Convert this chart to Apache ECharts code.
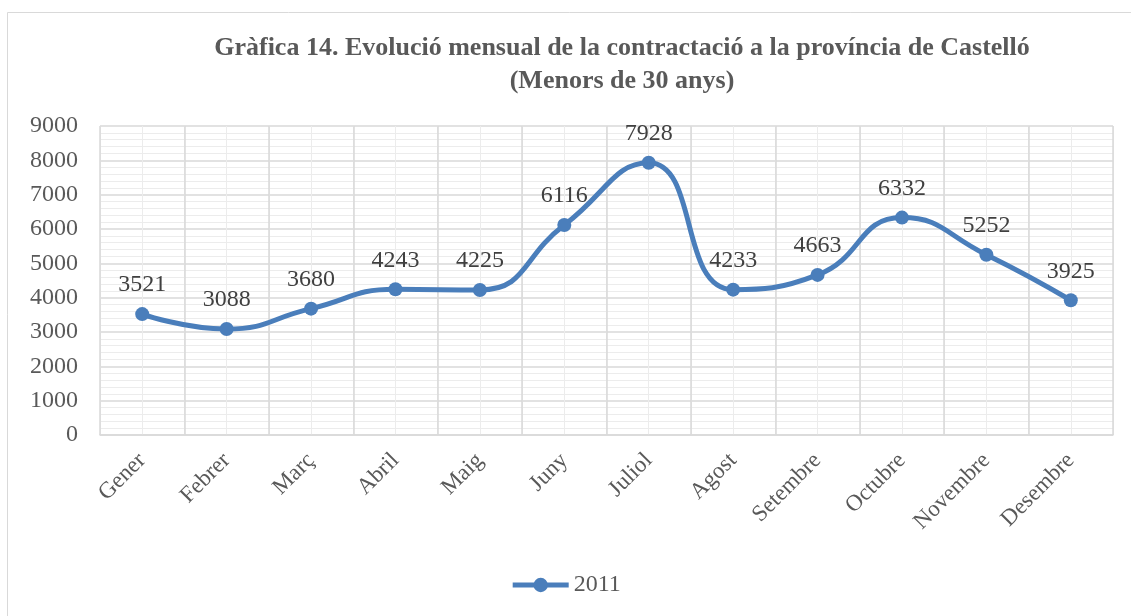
<!DOCTYPE html>
<html><head><meta charset="utf-8">
<script src="https://cdn.jsdelivr.net/npm/echarts@6/dist/echarts.min.js"></script>
<style>html,body{margin:0;padding:0;background:#fff}#c{width:1131px;height:616px}</style>
</head><body><div id="c"></div>
<script>
const categories = ['Gener','Febrer','Març','Abril','Maig','Juny','Juliol','Agost','Setembre','Octubre','Novembre','Desembre'];
const values2011 = [3521,3088,3680,4243,4225,6116,7928,4233,4663,6332,5252,3925];
const seriesName = '2011';
const titleLines = ['Gràfica 14. Evolució mensual de la contractació a la província de Castelló','(Menors de 30 anys)'];

const chart = echarts.init(document.getElementById('c'));
const serif = '"Liberation Serif", "DejaVu Serif", serif';
chart.setOption({
  animation: false,
  backgroundColor: '#fff',
  graphic: [{type:'rect', shape:{x:7.5,y:12.5,width:1140,height:620}, style:{fill:'none',stroke:'#d9d9d9',lineWidth:1}, z:-10}],
  title: {
    text: titleLines.join('\n'),
    left: 617, textAlign: 'center', top: 27,
    textStyle: {fontFamily: serif, fontWeight: 'bold', fontSize: 26, color: '#595959', lineHeight: 33}
  },
  legend: {
    data: [seriesName], bottom: 14, left: 'center',
    itemWidth: 56, itemHeight: 18, itemGap: 4,
    lineStyle: {width: 5},
    textStyle: {fontFamily: serif, fontSize: 24, color: '#595959'}
  },
  grid: {left: 100, right: 18, top: 126, bottom: 181},
  xAxis: [{
    type: 'category', data: categories, boundaryGap: true, z: 2,
    axisLine: {show: true, lineStyle: {color: '#d9d9d9', width: 1.5}},
    axisTick: {show: false},
    splitLine: {show: true, lineStyle: {color: '#d9d9d9', width: 1.5}},
    axisLabel: {rotate: 45, interval: 0, margin: 22, fontFamily: serif, fontSize: 23, color: '#595959'}
  },{
    type: 'value', min: 0, max: 24, interval: 1, show: true, z: 0,
    axisLine: {show: false}, axisTick: {show: false}, axisLabel: {show: false},
    splitLine: {show: true, lineStyle: {color: '#ececec', width: 1}}
  }],
  yAxis: {
    type: 'value', min: 0, max: 9000, interval: 1000,
    axisLine: {show: false}, axisTick: {show: false},
    axisLabel: {margin: 22, fontFamily: serif, fontSize: 24, color: '#595959', formatter: v => String(v)},
    splitLine: {show: true, lineStyle: {color: '#d9d9d9', width: 1.5}},
    minorTick: {show: false, splitNumber: 5},
    minorSplitLine: {show: true, lineStyle: {color: '#ececec', width: 1}}
  },
  series: [{
    name: seriesName, type: 'line', data: values2011, smooth: 0.5, xAxisIndex: 0,
    symbol: 'circle', symbolSize: 14,
    lineStyle: {color: '#4a7ebb', width: 5},
    itemStyle: {color: '#4a7ebb'},
    label: {show: true, position: 'top', distance: 10, fontFamily: serif, fontSize: 24, color: '#404040'}
  }]
});
</script></body></html>
